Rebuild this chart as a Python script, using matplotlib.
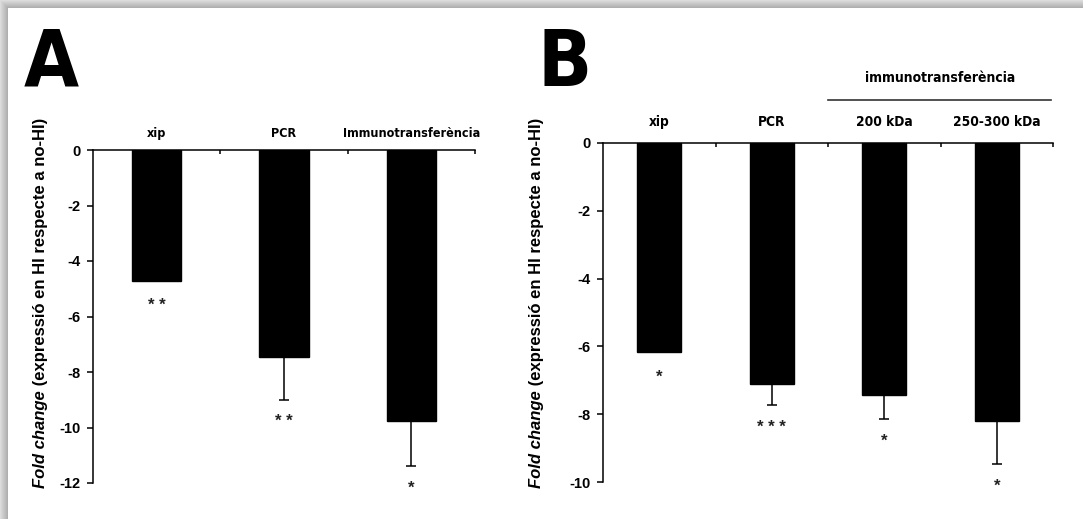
import numpy as np
import matplotlib
matplotlib.use("Agg")
import matplotlib.pyplot as plt

# ---- data -------------------------------------------------------------
cats_a = ["xip", "PCR", "Immunotransferència"]
fold_a = [-4.72, -7.45, -9.75]
err_a = [0.0, 1.55, 1.65]
stars_a = ["* *", "* *", "*"]

cats_b = ["xip", "PCR", "200 kDa", "250-300 kDa"]
fold_b = [-6.17, -7.10, -7.42, -8.19]
err_b = [0.0, 0.62, 0.71, 1.27]
stars_b = ["*", "* * *", "*", "*"]

yticks_a = [0, -2, -4, -6, -8, -10, -12]
yticks_b = [0, -2, -4, -6, -8, -10]
group_b = "immunotransferència"
ylabel_it = "Fold change"
ylabel_rest = " (expressió en HI respecte a no-HI)"

# ---- figure -----------------------------------------------------------
W, H = 1083, 519
fig = plt.figure(figsize=(W / 100, H / 100), dpi=100)

NARROW = dict(family=["DejaVu Sans"], stretch="condensed")
SANS = ["Liberation Sans", "DejaVu Sans"]


def fx(px):
    return px / W


def fy(py):
    return 1 - py / H


# soft grey frame along the top and left edges
bg = fig.add_axes([0, 0, 1, 1], zorder=-10)
yy, xx = np.mgrid[0:H, 0:W]
d = np.maximum(8 - yy, 8 - xx).astype(float)
img = np.ones((H, W))
mask = d > 0
img[mask] = 0.66 + 0.025 * d[mask]
img = np.clip(img, 0, 1)
bg.imshow(img, cmap="gray", vmin=0, vmax=1, aspect="auto", interpolation="bilinear")
bg.axis("off")


def panel(rect, cats, vals, errs, stars, yticks, ylim, lab_y, fs_cat):
    ax = fig.add_axes(rect)
    n = len(cats)
    x = np.arange(n)
    ax.bar(x, vals, width=0.39, color="black", edgecolor="black", zorder=2)
    for xi, v, e in zip(x, vals, errs):
        if e > 0:
            _, caps, _ = ax.errorbar(xi, v, yerr=[[e], [0]], fmt="none", ecolor="black",
                                     elinewidth=1.1, capsize=3.6, capthick=1.1, zorder=1)
            caps[1].set_visible(False)
    for xi, v, e, s in zip(x, vals, errs, stars):
        off = -16 if e > 0 else -18
        ax.annotate(s, xy=(xi, v - e), xytext=(0, off), textcoords="offset points",
                    ha="center", va="center", fontsize=12, fontweight="bold",
                    family=SANS, color="#222222")
    ax.set_xlim(-0.5, n - 0.5)
    ax.set_ylim(*ylim)
    ax.set_yticks(yticks)
    ax.set_yticklabels([str(t) for t in yticks], fontsize=10.5, fontweight="bold", family=SANS)
    ax.set_xticks(np.arange(n) + 0.5)
    ax.set_xticklabels([])
    ax.xaxis.set_ticks_position("top")
    ax.tick_params(axis="x", direction="in", length=3, width=1.1)
    ax.tick_params(axis="y", direction="out", length=4, width=1.1, pad=5)
    for side in ("bottom", "right"):
        ax.spines[side].set_visible(False)
    for side in ("top", "left"):
        ax.spines[side].set_linewidth(1.1)
    for xi, c in zip(x, cats):
        ax.text(xi, lab_y, c, transform=ax.get_xaxis_transform(), ha="center",
                va="center", fontsize=fs_cat, fontweight="bold", **NARROW)
    return ax


ax_a = panel([fx(93), fy(483), fx(475) - fx(93), fy(150) - fy(483)],
             cats_a, fold_a, err_a, stars_a, yticks_a, (-12, 0), 1.05, 9)
ax_b = panel([fx(603), fy(482.3), fx(1053) - fx(603), fy(142.7) - fy(482.3)],
             cats_b, fold_b, err_b, stars_b, yticks_b, (-10, 0), 1.06, 9.8)

# bracket over the two immunoblot bars
trans_b = ax_b.get_xaxis_transform()
ax_b.plot([1.5, 3.48], [1.127, 1.127], transform=trans_b, color="#333333", lw=1.2,
          clip_on=False)
ax_b.text(2.5, 1.19, group_b, transform=trans_b, ha="center", va="center",
          fontsize=10, fontweight="bold", **NARROW)

# panel letters
fig.text(fx(24), fy(86), "A", fontsize=57, fontweight="bold", va="baseline", **NARROW)
fig.text(fx(537), fy(86), "B", fontsize=57, fontweight="bold", va="baseline", **NARROW)

# rotated y labels: italic part followed by the bold remainder
fig.canvas.draw()
renderer = fig.canvas.get_renderer()
for xpix in (40, 536):
    t1 = fig.text(fx(xpix), fy(488), ylabel_it, rotation=90, rotation_mode="anchor",
                  ha="left", va="center", fontsize=12, fontweight="bold",
                  style="italic", family=SANS)
    bb = t1.get_window_extent(renderer)
    fig.text(fx(xpix), bb.y1 / H, ylabel_rest, rotation=90, rotation_mode="anchor",
             ha="left", va="center", fontsize=12, fontweight="bold", family=SANS)

fig.savefig("out.png", dpi=100)
